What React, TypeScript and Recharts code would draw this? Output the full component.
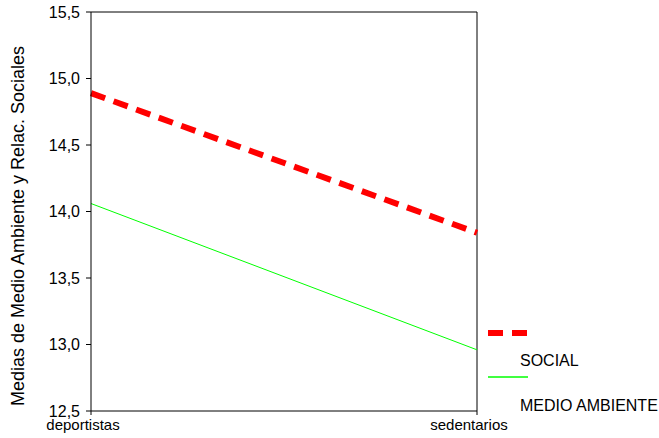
import { LineChart, Line, XAxis, YAxis, ReferenceLine } from "recharts";

// Category labels and group means
const groups = ["deportistas", "sedentarios"];
const social = [14.89, 13.84];
const medioAmbiente = [14.06, 12.96];
const yTicks = [12.5, 13, 13.5, 14, 14.5, 15, 15.5];

const data = groups.map((g, i) => ({
  name: g,
  SOCIAL: social[i],
  "MEDIO AMBIENTE": medioAmbiente[i],
}));

const FONT = "'Liberation Sans', Arial, sans-serif";

// decimal comma like the original
const fmt = (v: number) => v.toFixed(1).replace(".", ",");

// legend sits to the right of the frame, outside the plot layout
const LegendBox = () => (
  <svg
    width={171}
    height={100}
    style={{ position: "absolute", left: 488, top: 325, overflow: "visible" }}
  >
    <line x1={0} y1={8} x2={40} y2={8} stroke="#ff0000" strokeWidth={6} strokeDasharray="15 9" />
    <text x={32} y={41} fontSize={16} fontFamily={FONT} fill="#000">SOCIAL</text>
    <line x1={0} y1={52} x2={40} y2={52} stroke="#00ff00" strokeWidth={1.5} />
    <text x={32} y={86} fontSize={16} fontFamily={FONT} fill="#000">MEDIO AMBIENTE</text>
  </svg>
);

const YLabel = () => (
  <text
    x={18}
    y={226}
    transform="rotate(-90, 18, 226)"
    textAnchor="middle"
    dominantBaseline="central"
    fontSize={18}
    fontFamily={FONT}
    fill="#000"
  >
    Medias de Medio Ambiente y Relac. Sociales
  </text>
);

export default function App() {
  return (
    <div style={{ position: "absolute", left: 0, top: 0, width: 659, height: 438, background: "#fff" }}>
      <LineChart
        width={659}
        height={438}
        data={data}
        margin={{ top: 12, right: 182, bottom: 0, left: 0 }}
      >
        <XAxis
          dataKey="name"
          height={27}
          tickSize={4}
          tickMargin={4}
          dx={-8}
          stroke="#000"
          tick={{ fill: "#000", fontSize: 15, fontFamily: FONT }}
          interval={0}
        />
        <YAxis
          width={91}
          domain={[12.5, 15.5]}
          ticks={yTicks}
          tickFormatter={fmt}
          tickSize={5}
          tickMargin={6}
          stroke="#000"
          tick={{ fill: "#000", fontSize: 16, fontFamily: FONT }}
          label={<YLabel />}
        />
        <ReferenceLine y={15.5} stroke="#000" />
        <ReferenceLine x="sedentarios" stroke="#000" />
        <Line
          dataKey="SOCIAL"
          stroke="#ff0000"
          strokeWidth={6}
          strokeDasharray="15 9"
          dot={false}
          isAnimationActive={false}
        />
        <Line
          dataKey="MEDIO AMBIENTE"
          stroke="#00ff00"
          strokeWidth={1}
          dot={false}
          isAnimationActive={false}
        />
      </LineChart>
      <LegendBox />
    </div>
  );
}
